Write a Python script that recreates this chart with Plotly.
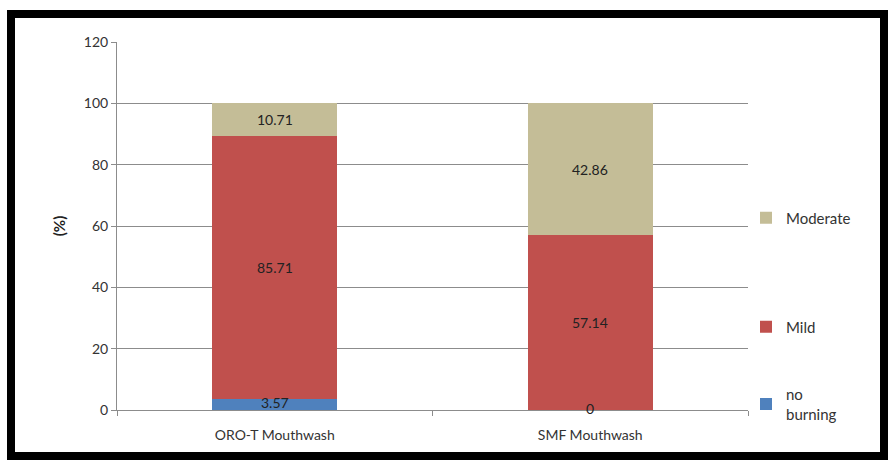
import plotly.graph_objects as go

categories = ["ORO-T Mouthwash", "SMF Mouthwash"]
no_burning = [3.57, 0]
mild = [85.71, 57.14]
moderate = [10.71, 42.86]
series_names = ["no<br>burning", "Mild", "Moderate"]
colors = ["#4F81BD", "#C0504D", "#C4BD97"]
y_ticks = [0, 20, 40, 60, 80, 100, 120]

W, H = 895, 466
L, R, T, B = 117, 147, 42, 56
pw, ph = W - L - R, H - T - B

def px_x(p):
    return (p - L) / pw

def px_y(p):
    return (H - B - p) / ph

legend_ids = ["legend3", "legend2", "legend"]
legend_y_px = [404, 327, 218]

fig = go.Figure()
all_series = [no_burning, mild, moderate]
for name, vals, col, lid in zip(series_names, all_series, colors, legend_ids):
    fig.add_trace(go.Bar(x=categories, y=vals, name=name, marker_color=col,
                         marker_line_width=0, legend=lid))

# value labels centered in each segment
ann = []
base = [0, 0]
for vals in all_series:
    for j, c in enumerate(categories):
        v = vals[j]
        ann.append(dict(x=c, y=base[j] + v / 2, text=f"{v:g}", showarrow=False,
                        font=dict(size=14, color="#222222", family="Lato"),
                        yshift=2 if v < 5 else 0))
        base[j] += v

fig.add_shape(type="rect", xref="paper", yref="paper",
              x0=px_x(11), x1=px_x(884), y0=px_y(456), y1=px_y(14),
              line=dict(color="black", width=8), fillcolor="rgba(0,0,0,0)", layer="below")

leg_common = dict(xanchor="left", yanchor="middle", bgcolor="rgba(0,0,0,0)",
                  font=dict(size=15, color="#333333"), itemwidth=30)

fig.update_layout(
    width=W, height=H,
    margin=dict(l=L, r=R, t=T, b=B, pad=0),
    barmode="stack", bargap=0.605,
    plot_bgcolor="white", paper_bgcolor="white",
    font=dict(family="Lato", size=14, color="#333333"),
    annotations=ann,
    showlegend=True,
    legend=dict(x=px_x(746), y=px_y(legend_y_px[2]), **leg_common),
    legend2=dict(x=px_x(746), y=px_y(legend_y_px[1]), **leg_common),
    legend3=dict(x=px_x(746), y=px_y(legend_y_px[0]), **leg_common),
    xaxis=dict(showline=True, linecolor="#8C8C8C", linewidth=1, ticks="outside",
               tickson="boundaries", ticklen=5, tickcolor="#8C8C8C",
               ticklabelstandoff=12,
               tickfont=dict(size=14, color="#333333")),
    yaxis=dict(range=[0, 120], tickvals=y_ticks, showline=True, linecolor="#8C8C8C",
               linewidth=1, ticks="outside", ticklen=5, tickcolor="#8C8C8C",
               showgrid=True, gridcolor="#8C8C8C", gridwidth=1, zeroline=False,
               tickfont=dict(size=14, color="#333333"),
               title=dict(text="<b>(%)</b>", font=dict(size=15, color="#222222"), standoff=14)),
)

fig.write_html("out.html")
